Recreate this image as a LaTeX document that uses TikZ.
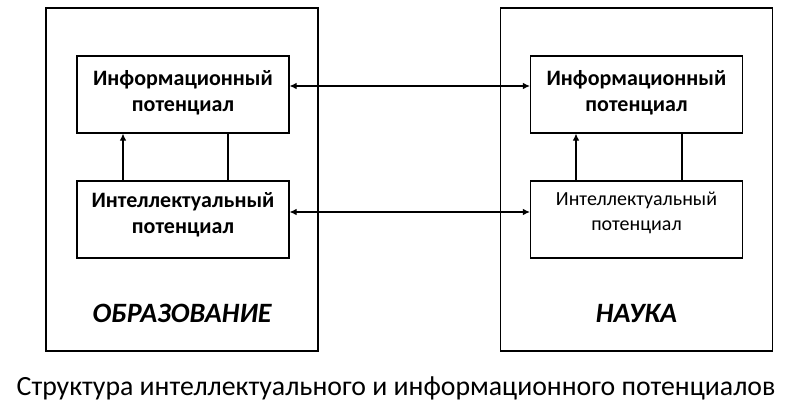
\documentclass[tikz,border=0pt]{standalone}
\usepackage{fontspec}
\setmainfont{Carlito}
\usepackage{tikz}
\usetikzlibrary{arrows.meta}

\begin{document}
\begin{tikzpicture}[x=1pt, y=-1pt,
    every path/.style={line width=1.1pt},
    outer/.style={draw, minimum width=272pt, minimum height=343pt, inner sep=0pt},
    inner/.style={draw, minimum width=212pt, minimum height=77pt, align=center,
        font=\bfseries\fontsize{22}{26.5}\selectfont},
    innerthin/.style={inner, font=\fontsize{20}{26}\selectfont},
    title/.style={anchor=base, font=\bfseries\itshape\fontsize{28}{32}\selectfont},
    tip/.style={-{Latex[length=7pt,width=6.5pt]}},
    tips/.style={{Latex[length=7pt,width=6.5pt]}-{Latex[length=7pt,width=6.5pt]}}
    ]

    \useasboundingbox (0,0) rectangle (792,416);

    % outer boxes
    \node[outer] (EDU) at (182,179.5) {};
    \node[outer] (SCI) at (636.5,179.5) {};

    \node[title] (EDUl) at (182,322) {ОБРАЗОВАНИЕ};
    \node[title] (SCIl) at (636.5,322) {НАУКА};

    % inner boxes
    \node[inner] (LI) at (183,94.5) {Информационный\\потенциал\\[-19pt]};
    \node[inner] (LS) at (183,219.5) {Интеллектуальный\\потенциал\\[-13pt]};

    \node[inner] (RI) at (636.5,94.5) {Информационный\\потенциал\\[-19pt]};
    \node[innerthin] (RS) at (636.5,219.5) {Интеллектуальный\\[-1pt]потенциал\\[-10pt]};

    % links inside
    \draw[tip] ([xshift=-60pt]LS.north) -- ([xshift=-60pt]LI.south);
    \draw ([xshift=45pt]LS.north) -- ([xshift=45pt]LI.south);

    \draw[tip] ([xshift=-60.5pt]RS.north) -- ([xshift=-60.5pt]RI.south);
    \draw ([xshift=45.5pt]RS.north) -- ([xshift=45.5pt]RI.south);

    % links between
    \draw[tips] ([yshift=8.5pt]LI.east) -- ([yshift=8.5pt]RI.west);
    \draw[tips] ([yshift=7.5pt]LS.east) -- ([yshift=7.5pt]RS.west);

    \node[font=\fontsize{27.8}{32}\selectfont] (CAP) at (396,388) {Структура интеллектуального и информационного потенциалов};

\end{tikzpicture}
\end{document}
